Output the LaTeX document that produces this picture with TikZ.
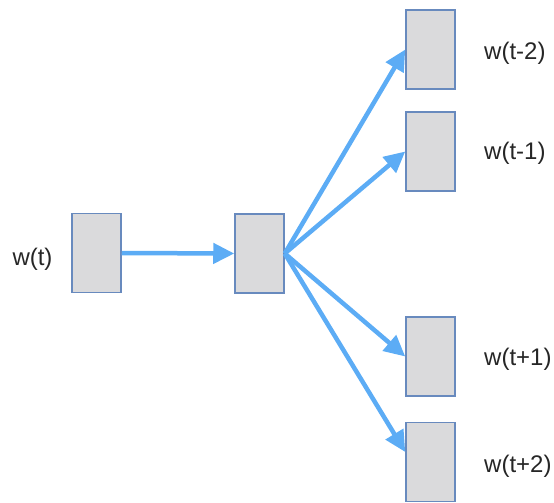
\documentclass[tikz,border=0pt]{standalone}
\usepackage{fontspec}
\setmainfont{Liberation Sans}
\usetikzlibrary{arrows.meta, positioning}

\definecolor{boxfill}{RGB}{218,218,220}
\definecolor{boxline}{RGB}{104,138,190}
\definecolor{arrowblue}{RGB}{92,172,245}

\begin{document}
\begin{tikzpicture}[x=1pt,y=1pt,
		unit/.style={rectangle,draw=boxline,line width=1.5pt,fill=boxfill,minimum width=49pt,minimum height=79pt,inner sep=0pt},
		word/.style={font=\fontsize{24}{27}\selectfont,text=black!85,inner sep=0pt},
		link/.style={draw=arrowblue,line width=4.5pt,-{Triangle[length=21pt,width=20pt]}}]
		\useasboundingbox (0,0) rectangle (554,-503);
		%\draw[gray,step=50] (0,-503) grid (554,0);
		\node[unit] (in) at (96.5,-253) {};
		\node[unit] (hid) at (259.5,-253.5) {};
		\node[unit] (o1) at (430.5,-49.5) {};
		\node[unit] (o2) at (430.5,-151.5) {};
		\node[unit] (o3) at (430.5,-356.5) {};
		\node[unit] (o4) at (430.5,-462) {};

		\node[word] (win) at (32.5,-259) {w(t)};
		\node[word,anchor=west] (w1) at (484,-53) {w(t-2)};
		\node[word,anchor=west] (w2) at (484,-153) {w(t-1)};
		\node[word,anchor=west] (w3) at (484,-359) {w(t+1)};
		\node[word,anchor=west] (w4) at (484,-466) {w(t+2)};

		\draw[link] (in.east) -- (hid.west);
		\draw[link] (hid.east) -- (o1.west);
		\draw[link] (hid.east) -- (o2.west);
		\draw[link] (hid.east) -- (o3.west);
		\draw[link] (hid.east) -- ([yshift=10pt]o4.west);
	\end{tikzpicture}
\end{document}
